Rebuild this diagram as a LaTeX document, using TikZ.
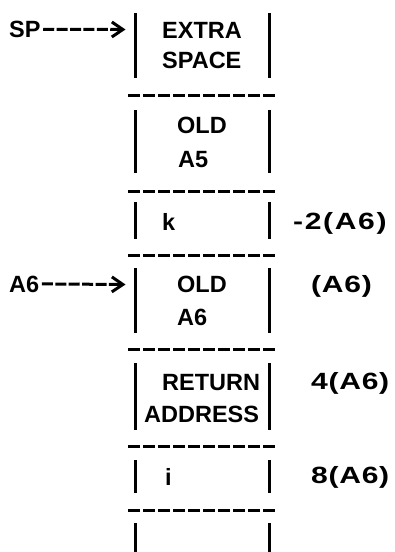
\documentclass[tikz,border=0pt]{standalone}
\usepackage{fontspec}
\setmainfont{Liberation Sans}
\usetikzlibrary{arrows.meta}
\begin{document}
\begin{tikzpicture}[x=1pt,y=-1pt,
  txt/.style={anchor=base west, inner sep=0pt,
    font=\fontsize{23.5}{28}\selectfont\bfseries},
  offs/.style={txt,
    font=\fontsize{23.5}{28}\selectfont\bfseries\addfontfeature{FakeStretch=1.28,LetterSpace=3}},
  wideoffs/.style={txt,
    font=\fontsize{23.5}{28}\selectfont\bfseries\addfontfeature{FakeStretch=1.28,LetterSpace=7}},
  bar/.style={line width=3pt},
  sep/.style={line width=3pt, dash pattern=on 12.2pt off 2.8pt},
  ptr/.style={line width=3pt, dash pattern=on 11pt off 2.4pt,
    -{Straight Barb[length=11pt,width=15pt]}}
]
\useasboundingbox (0,0) rectangle (394,552);

% stack cells: left and right walls
\foreach \t/\b in {13/78, 110/173, 202/239, 268/333, 363/430, 460/493, 523/556}{
  \draw[bar] (135.5,\t) -- (135.5,\b);
  \draw[bar] (269.5,\t) -- (269.5,\b);
}
% dashed separators between cells
\foreach \y in {95,191,255,349,446,510}
  \draw[sep] (128,\y) -- (277,\y);

% cell contents
\node[txt] (extra)  at (162,38)  {EXTRA};
\node[txt] (space)  at (162,68)  {SPACE};
\node[txt] (olda)   at (177,133) {OLD};
\node[txt] (afive)  at (178,167) {A5};
\node[txt] (kvar)   at (162,230) {k};
\node[txt] (oldb)   at (177,292) {OLD};
\node[txt] (asix)   at (177,325) {A6};
\node[txt] (ret)    at (162,390) {RETURN};
\node[txt] (addr)   at (144,422) {ADDRESS};
\node[txt] (ivar)   at (165,485) {i};

% offsets from the frame pointer
\node[wideoffs] (offk) at (293,229) {-2(A6)};
\node[offs] (offo)  at (311,292) {(A6)};
\node[offs] (offr)  at (311,389) {4(A6)};
\node[offs] (offi)  at (311,483) {8(A6)};

% register pointers
\node[txt] (sp)  at (9,37.5) {SP};
\node[txt] (fp)  at (9,292)  {A6};
\coordinate (sptip) at (125.5,29.5);
\coordinate (fptip) at (125.5,284.5);
\draw[ptr] ([xshift=2.5pt]sp.east) -- (sptip);
\draw[ptr] ([xshift=2.5pt]fp.east) -- (fptip);
\end{tikzpicture}
\end{document}
